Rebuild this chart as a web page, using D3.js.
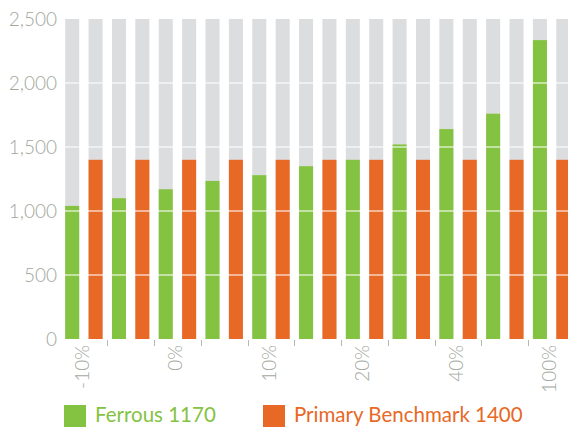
<!DOCTYPE html>
<html><head><meta charset="utf-8">
<script src="https://cdn.jsdelivr.net/npm/d3@7"></script>
<style>
html,body{margin:0;padding:0;background:#fff;}
svg{display:block;font-family:Lato,"Open Sans",sans-serif;}
</style></head>
<body>
<svg id="chart" width="568" height="430"></svg>
<script>
const categories = ["-10%","-5%","0%","5%","10%","15%","20%","30%","40%","60%","100%"];
const shownLabels = ["-10%","0%","10%","20%","40%","100%"];
const ferrous = [1040,1100,1170,1235,1280,1350,1400,1520,1640,1760,2335];
const primary = [1400,1400,1400,1400,1400,1400,1400,1400,1400,1400,1400];
const seriesNames = ["Ferrous 1170","Primary Benchmark 1400"];
const yTicks = [0,500,1000,1500,2000,2500];

const GREEN="#84c341", ORANGE="#e86825", GRAY="#dcdddf", AXIS="#a2a89e";
const svg = d3.select("#chart");
const x0 = d3.scaleBand().domain(d3.range(categories.length)).range([60.5,575]).paddingInner(0).paddingOuter(0);
const x1 = d3.scaleBand().domain([0,1]).range([0,x0.bandwidth()]).paddingInner(0.4).paddingOuter(0.2);
const y = d3.scaleLinear().domain([0,2500]).range([339,19]);

const data = categories.map((c,i)=>({c,i,vals:[ferrous[i],primary[i]]}));
const g = svg.append("g");
const groups = g.selectAll("g.grp").data(data).join("g").attr("class","grp")
  .attr("transform",d=>`translate(${x0(d.i)},0)`);
// gray backgrounds
groups.selectAll("rect.bg").data(d=>d.vals.map((v,k)=>({v,k}))).join("rect").attr("class","bg")
  .attr("x",d=>x1(d.k)).attr("width",x1.bandwidth())
  .attr("y",y(2500)).attr("height",y(0)-y(2500)).attr("fill",GRAY);
groups.selectAll("rect.val").data(d=>d.vals.map((v,k)=>({v,k}))).join("rect").attr("class","val")
  .attr("x",d=>x1(d.k)).attr("width",x1.bandwidth())
  .attr("y",d=>y(d.v)).attr("height",d=>y(0)-y(d.v)).attr("fill",d=>d.k===0?GREEN:ORANGE);

// gridlines
g.selectAll("line.grid").data(yTicks.filter(t=>t>0&&t<2500)).join("line").attr("class","grid")
  .attr("x1",60).attr("x2",568).attr("y1",d=>y(d)).attr("y2",d=>y(d))
  .attr("stroke","#fff").attr("stroke-opacity",0.7).attr("stroke-width",1.6);

// y axis
const ya = svg.append("g").attr("transform","translate(57,0)")
  .call(d3.axisLeft(y).tickValues(yTicks).tickSize(0).tickPadding(0).tickFormat(d3.format(",")));
ya.select(".domain").remove();
ya.selectAll("text").attr("fill",AXIS).style("font-size","19px").style("font-family","Lato,sans-serif").style("font-weight","300");

// x axis ticks between groups
svg.selectAll("line.xt").data(d3.range(1,categories.length)).join("line").attr("class","xt")
  .attr("x1",d=>Math.round(x0(d))+0.5).attr("x2",d=>Math.round(x0(d))+0.5)
  .attr("y1",340).attr("y2",346).attr("stroke","#b5b9b2").attr("stroke-width",1);
const xa = svg.append("g").attr("transform","translate(0,345)")
  .call(d3.axisBottom(x0).tickSize(0).tickPadding(0).tickFormat(i=>shownLabels.includes(categories[i])?categories[i]:""));
xa.select(".domain").remove();
xa.selectAll("text").attr("fill",AXIS).style("font-size","19px").style("font-family","Lato,sans-serif").style("font-weight","300")
  .attr("text-anchor","end").attr("transform","rotate(-90)").attr("x",0).attr("y",-2).attr("dy","0.35em");

// legend
const leg = svg.append("g");
const legX = [64,263];
seriesNames.forEach((n,k)=>{
  leg.append("rect").attr("x",legX[k]).attr("y",405).attr("width",22).attr("height",22).attr("fill",k===0?GREEN:ORANGE);
  leg.append("text").attr("x",legX[k]+31).attr("y",422).text(n).attr("fill",k===0?GREEN:ORANGE)
    .style("font-size","20.5px").style("font-family","Lato,sans-serif");
});
</script>
</body></html>
